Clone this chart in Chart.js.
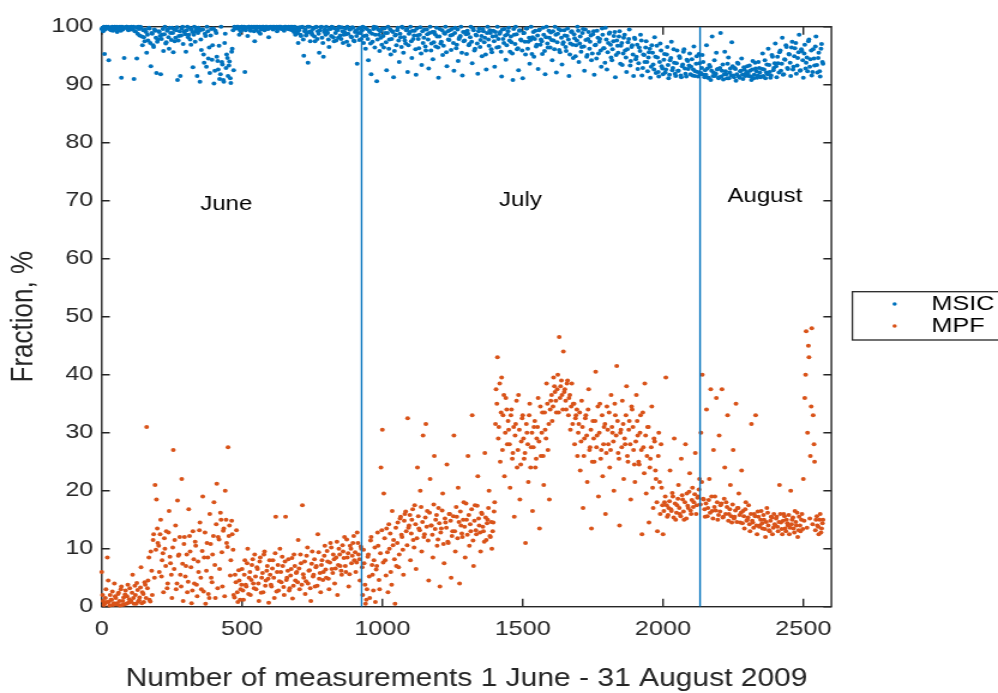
<!DOCTYPE html>
<html>
<head>
<meta charset="utf-8">
<script src="https://cdn.jsdelivr.net/npm/chart.js@4.4.1/dist/chart.umd.min.js"></script>
<style>
  html, body { margin: 0; padding: 0; background: #fff; overflow: hidden; }
  #chart { display: block; }
</style>
</head>
<body>
<canvas id="chart" width="832" height="693" style="width:998px;height:693px"></canvas>
<script>
'use strict';

// readings are stored every `step` measurements, in two interleaved runs
const step = 5;
const secondRunOffset = 3;
const seriesNames = ['MSIC', 'MPF'];
const monthNames = ['June', 'July', 'August'];
const monthBreaks = [926, 2132];
const monthLabelX = [444, 1492, 2363];
const monthLabelY = [69.4, 70, 70.7];
const xTicks = [0, 500, 1000, 1500, 2000, 2500];
const yTicks = [0, 10, 20, 30, 40, 50, 60, 70, 80, 90, 100];

// MSIC, measurements 0, 5, 10, ...
const msic = [
  99.6, 99.2, 95.3, 100, 99.8, 94.2, 99.5, 99.9, 99.3, 100,
  99.7, 99.1, 99.9, 100, 91.2, 99.5, 94.6, 99.8, 100, 99.4,
  99.9, 100, 99.6, 91, 99.2, 94.5, 100, 98.5, 99.8, 96.8,
  98.2, 99.5, 95.5, 97.6, 99.7, 93.2, 98.8, 96.5, 99.3, 92,
  97.8, 99.1, 91.8, 98.6, 95.8, 100, 97.3, 99.5, 96.2, 98.9,
  99.8, 95.6, 97.5, 99.4, 90.8, 98.4, 91.5, 99.7, 97, 99.2,
  95.7, 100, 98.6, 97.8, 99.5, 93, 100, 99.2, 91.5, 99.8,
  90.5, 96, 99.5, 93.8, 98.4, 100, 94.5, 92, 99.6, 96.8,
  90.2, 99.3, 94.8, 92.6, 91, 100, 93.5, 90.5, 98.8, 95.2,
  91.5, 94, 90.3, 96.2, 92.5, 99.7, 99.9, 100, 98.6, 99.2,
  100, 99.6, 92.2, 99.9, 98.4, 100, 99.3, 99.8, 100, 97.5,
  99.5, 100, 99.1, 98.8, 99.9, 100, 99.4, 100, 99.7, 98.2,
  100, 99.8, 99.5, 100, 99.9, 99.2, 100, 100, 99.6, 99.9,
  99.3, 100, 99.8, 100, 99.5, 99.9, 100, 99.1, 98.6, 99.7,
  97.2, 99.9, 98.4, 100, 95, 99.5, 98.8, 93.8, 100, 99.2,
  98.6, 99.8, 97.5, 100, 99.2, 95.5, 99.9, 98.1, 94.8, 99.5,
  100, 98.9, 96.5, 99.6, 100, 98.2, 99.7, 97.6, 99.4, 100,
  98.5, 99.9, 97.2, 99.1, 98.7, 100, 96.8, 99.5, 98.2, 99.8,
  97.5, 99.3, 93.6, 98.9, 99.8, 97.9, 100, 98.4, 96.2, 99.6,
  94.2, 99.1, 91.8, 97.4, 100, 98.6, 90.6, 99.5, 95.8, 98.1,
  99.7, 96.4, 98.9, 92.5, 100, 97.8, 95.2, 99.2, 91.3, 98.5,
  96.8, 99.8, 93.9, 98.2, 100, 95.5, 97.6, 99.4, 92.2, 98.8,
  100, 94.6, 97.9, 99.3, 91.7, 98.5, 96.3, 99.9, 93.4, 97.2,
  99.5, 95.9, 98.7, 92.8, 100, 97.1, 94.4, 99.1, 96.6, 98.3,
  91.2, 99.6, 97.4, 95.1, 98.9, 100, 93.2, 97.8, 99.4, 96,
  98.6, 92.4, 99.8, 96.9, 94.1, 98.2, 100, 91.6, 97.5, 99.1,
  95.3, 98.8, 97, 100, 93.7, 99.4, 96.2, 98.5, 91.9, 99.7,
  97.7, 94.9, 99.2, 98.1, 92.6, 100, 96.7, 98.9, 95.6, 99.3,
  93.1, 98.4, 100, 96.5, 99.1, 91.4, 97.9, 99.6, 94.3, 98.7,
  99.8, 95.7, 97.3, 90.8, 98.6, 100, 96.1, 92.5, 99.4, 97.6,
  91.1, 98.9, 95.2, 99.7, 97.4, 93.6, 100, 98.2, 94.8, 99.3,
  96.9, 92.7, 99.5, 97.8, 95.3, 98.6, 91.8, 100, 96.4, 98.1,
  99, 94.2, 97.6, 100, 92.1, 98.8, 96, 99.4, 93.5, 97.3,
  98.5, 95.8, 99.7, 91.5, 97.1, 99.2, 94.6, 98, 96.8, 100,
  93.9, 98.3, 96.5, 99.6, 92.4, 97.7, 95.1, 99.1, 97.4, 94.2,
  98.7, 91.7, 96.9, 99.3, 95.4, 97.9, 93.1, 98.6, 96.3, 99.8,
  92.6, 97.2, 99, 94.7, 96.1, 98.4, 91.3, 97.6, 95.5, 99.2,
  96.7, 93.4, 98.1, 95.9, 92.2, 97.3, 99.5, 94.1, 96.8, 91.5,
  97.9, 94.8, 92.7, 96.4, 98.6, 91.6, 95.2, 93.9, 97.5, 92.3,
  95.6, 91.2, 96.8, 93.5, 98.2, 92, 94.7, 91.4, 97.1, 93.2,
  91.8, 95.3, 92.6, 96.5, 91.1, 94.2, 97.4, 92.9, 93.8, 91.5,
  95.9, 92.4, 94.6, 91.3, 93.5, 96.1, 91.9, 94.3, 92.7, 95.4,
  93.1, 91.6, 96.6, 92.3, 94.9, 91.4, 93.7, 92, 95.1, 91.7,
  92.5, 96.8, 91.2, 93.4, 90.8, 98.3, 92.1, 91.5, 95.5, 92.7,
  91.3, 98.9, 92.4, 90.9, 95.7, 91.8, 93.6, 91.1, 92.8, 97.3,
  91.6, 92.9, 90.7, 93.8, 91.4, 92.3, 94.5, 91, 92.6, 91.9,
  93.2, 91.5, 92.4, 90.8, 94.1, 91.7, 92.8, 91.2, 93.9, 92.1,
  91.4, 95.4, 92.6, 91.1, 93.5, 96.2, 92.2, 91.6, 94.8, 92.9,
  97.1, 91.3, 93.7, 95.6, 92.4, 98.1, 91.8, 94.3, 96.5, 92.7,
  95.2, 91.5, 97.4, 93.1, 96.3, 91.9, 94.6, 98.6, 92.5, 95.8,
  91.2, 96.9, 93.8, 92.3, 97.8, 94.4, 91.6, 96.1, 93.3, 98.3,
  92.1, 95.5, 91.4, 97, 93.6
];

// MSIC, measurements 3, 8, 13, ...
const msicB = [
  99.8, 100, 99.5, 99.9, 100, 99.7, 99.4, 100, 99.8, 99.6,
  100, 99.5, 99.9, 99.3, 100, 99.8, 99.9, 100, 99.6, 99.9,
  99.5, 99.8, 100, 99.2, 99.9, 98.8, 99.6, 100, 98.3, 99.4,
  97.5, 99.1, 98.6, 99.8, 97.2, 98.9, 96.8, 99.5, 98.1, 97.4,
  99.2, 98.4, 97.9, 99.6, 98.7, 97.1, 99.3, 98.2, 99.8, 97.7,
  98.9, 99.5, 98.1, 99.9, 97.6, 99.2, 98.5, 100, 99.1, 98.7,
  99.4, 98.2, 99.8, 96.9, 99.1, 98.6, 97.4, 99.6, 98.9, 99.3,
  97.8, 99.5, 95.2, 98.8, 93.1, 99.2, 96.4, 98.5, 94.3, 99.7,
  92.4, 98.9, 94.1, 96.7, 91.8, 93.9, 90.8, 97.2, 92.9, 94.6,
  93.3, 91.1, 95.7, 99.4, 100, 99.8, 100, 99.6, 99.9, 100,
  99.7, 100, 99.4, 99.8, 100, 99.6, 100, 99.9, 99.2, 100,
  99.8, 99.9, 100, 99.5, 100, 99.7, 99.9, 100, 99.6, 99.8,
  99.9, 100, 99.7, 99.8, 100, 99.6, 99.9, 100, 99.8, 99.5,
  100, 99.8, 99.6, 99.9, 100, 99.4, 99.7, 100, 99.2, 98.9,
  99.4, 98.6, 99.9, 97.8, 99.2, 98.5, 100, 99.1, 97.5, 98.9,
  99.6, 98.3, 99.9, 97.9, 98.8, 99.4, 100, 97.2, 99.1, 98.6,
  99.3, 97.8, 99.7, 98.4, 99.9, 97.5, 98.9, 99.5, 98.1, 99.8,
  97.9, 99.2, 98.6, 99.7, 97.4, 98.8, 99.5, 98.3, 99.9, 97.6,
  99.1, 98.4, 99.6, 97.7, 98.9, 99.4, 97.2, 99.8, 98.5, 97.9,
  99.3, 97.1, 98.8, 99.6, 96.4, 99.9, 97.8, 98.6, 99.2, 96.9,
  98.4, 99.7, 97.3, 98.9, 96.2, 99.5, 97.9, 99.1, 95.8, 98.6,
  99.4, 97.6, 98.8, 96.5, 99.8, 98.2, 97.1, 99.6, 96.8, 99.1,
  97.5, 99.3, 98.5, 96.1, 99.7, 97.9, 98.6, 95.4, 99.2, 98.1,
  96.6, 99.5, 97.8, 98.9, 95.9, 99.1, 97.3, 98.7, 99.8, 96.4,
  98.3, 97.1, 99.4, 96.7, 98.8, 95.6, 99.2, 97.7, 98.5, 99.6,
  97.2, 98.9, 96.3, 99.5, 97.9, 98.4, 95.5, 99.1, 97.6, 98.7,
  99.3, 96.8, 98.2, 97.4, 99.7, 95.9, 98.6, 97.1, 99.2, 96.5,
  98.4, 99.6, 97.3, 95.2, 98.9, 97.8, 99.4, 96.1, 98.3, 97.5,
  99.1, 96.4, 97.9, 98.8, 95.7, 99.5, 97.2, 98.5, 96.8, 99.2,
  97.6, 98.3, 95.4, 99.6, 97, 98.7, 96.3, 99.3, 97.8, 95.9,
  98.9, 97.4, 99.7, 96.2, 98.1, 97.7, 95.3, 99.1, 97.9, 96.6,
  98.5, 99.4, 96.9, 97.5, 99.8, 95.8, 98.2, 97.1, 99.3, 96.4,
  97.7, 99.2, 96.1, 98.6, 97.3, 99.6, 95.6, 98.1, 97, 99.4,
  96.5, 98.4, 97.8, 95.2, 99.1, 96.9, 98.7, 94.9, 97.6, 99.3,
  97.1, 95.7, 98.9, 96.6, 99.5, 94.8, 97.9, 96.2, 98.5, 95.4,
  99.2, 96.8, 94.5, 98.1, 97.4, 95.9, 99.7, 96.3, 93.8, 97.8,
  95.6, 98.8, 96.9, 94.2, 97.5, 99.1, 95.1, 96.7, 98.3, 93.6,
  97.2, 95.4, 98.6, 94.7, 96.1, 97.9, 93.3, 96.5, 95.2, 98.1,
  94.4, 96.9, 93.7, 95.8, 97.6, 92.9, 95.1, 96.4, 93.9, 94.7,
  96.2, 93.1, 95.5, 92.6, 94.8, 96.7, 92.2, 93.9, 95.9, 92.8,
  94.3, 92.1, 95.2, 93.4, 91.7, 94.6, 92.5, 96.1, 91.9, 93.7,
  92.4, 94.9, 91.6, 93.2, 95.7, 92.8, 91.4, 94.1, 93.3, 91.8,
  94.4, 92.6, 91.5, 93.6, 92.2, 95.3, 91.8, 92.9, 93.9, 91.3,
  91.7, 92.8, 91.2, 93.1, 92.4, 91.5, 94.2, 91.9, 92.6, 91.1,
  92.9, 91.4, 93.5, 91.8, 92.3, 91.1, 94.7, 92.1, 91.6, 93.2,
  91.3, 92.7, 91.8, 93.6, 91.2, 92.4, 91.7, 93, 91.5, 92.2,
  91.9, 93.3, 91.4, 92.6, 91.1, 93.8, 92.3, 91.6, 92.9, 91.3,
  92.7, 91.5, 94.2, 92.1, 91.8, 93.4, 91.2, 95.1, 92.5, 93.7,
  93.2, 94.8, 92.1, 95.9, 93.6, 91.7, 94.4, 96.8, 92.9, 95.3,
  93.8, 96.4, 92.6, 94.9, 97.2, 93.3, 95.6, 92.4, 96.1, 94.2,
  95.4, 92.8, 94.7, 97.5, 93.1, 95.9, 92.2, 94.5, 96.6, 93.4,
  94.6, 92.3, 96.2, 93.9
];

// MPF, measurements 0, 5, 10, ...
const mpf = [
  6, 1, 0.5, 3, 8.5, 0.8, 2, 1.2, 0.3, 4,
  1.5, 0.6, 2.4, 0.2, 3.5, 1, 0.4, 2.8, 1.8, 0.7,
  3.2, 1, 5.5, 0.5, 2, 4.1, 0.9, 1.6, 6.8, 2.5,
  0.8, 3.8, 31, 4.5, 1.2, 9.5, 2, 12.5, 21, 18.5,
  11, 6, 15, 8, 2.5, 10, 13, 4, 16.5, 7.5,
  1.5, 27, 11.5, 3, 18.3, 9, 5.5, 22, 1, 12,
  7, 2.5, 16.8, 9.5, 0.6, 13, 4, 10.5, 1.8, 6,
  14.5, 3, 19, 8.5, 0.5, 11, 2.2, 16, 5, 9,
  18, 1.5, 21.2, 12, 6.5, 15, 3.5, 13.5, 20, 11,
  27.5, 14, 8, 12.5, 2, 5.5, 13.2, 0.8, 4.5, 3,
  6.5, 1.2, 8, 3.5, 10, 5, 2, 7.2, 4, 9,
  3, 6.5, 1, 8.5, 5, 2.5, 9.5, 4.5, 7, 0.7,
  5.5, 3.5, 8, 1.5, 15.5, 6, 2.8, 10, 4.2, 7,
  2, 15.5, 5, 8.2, 3.2, 6.5, 1.4, 9, 4.5, 6,
  11.5, 3, 7.5, 17.5, 5, 2.2, 8.8, 4, 6.3, 1,
  9.5, 5.5, 3.5, 7, 12.5, 4.8, 2.5, 8, 6, 10.5,
  5, 7.8, 3, 11, 6.5, 9, 4, 8.5, 2, 10,
  7, 5.5, 9.5, 12, 6, 8.5, 3.5, 10.5, 7.5, 11,
  8, 6, 12.8, 9, 4.5, 10, 2, 7.5, 0.5, 3,
  9, 1.5, 12, 5.5, 8, 0.8, 7, 10.5, 3, 24,
  30.5, 19.5, 8, 13.5, 2.5, 10, 6, 16.5, 11.5, 0.5,
  7, 14.5, 9, 15.5, 12, 5.5, 16, 13, 32.5, 14,
  8, 15, 11.5, 17.5, 6.5, 24, 13.5, 20, 9.5, 29.5,
  12.5, 31.5, 16.5, 4.5, 22, 14, 8.5, 26, 15, 10.5,
  17, 3.5, 13.5, 19.5, 7.5, 14.5, 24.5, 11, 16, 5,
  13, 29.5, 9.5, 15.5, 20.5, 4, 14, 12, 18, 8.5,
  15, 26, 10.5, 13, 33, 7, 17.5, 12.5, 22.5, 14,
  9.5, 16, 13, 26.5, 11.5, 15, 20, 12, 10, 14.5,
  18, 37.5, 43, 31, 25, 39.5, 33, 22.5, 36, 28,
  30.5, 20.5, 34, 26.5, 15.5, 31.5, 24, 36.5, 18.5, 28.5,
  33, 25.5, 11, 30, 21.5, 35, 27.5, 16.5, 31, 24,
  29, 36, 13.5, 26, 33.5, 21, 30.5, 38.5, 27, 18.5,
  35.5, 32, 39.5, 37, 33.5, 40, 46.5, 38, 36.5, 44,
  37.5, 34, 39, 36, 30.5, 38.5, 35, 28, 33, 26,
  31.5, 23.5, 35.5, 17, 29, 33, 21.5, 37.5, 27.5, 13.5,
  32, 25, 40.5, 29.5, 19, 35, 27, 22.5, 31, 16,
  34.5, 28, 24, 36.5, 30, 20, 33, 41.5, 26.5, 14,
  30.5, 35.5, 22, 28, 38, 25, 32, 18.5, 34, 27,
  21.5, 36.5, 29.5, 24.5, 33, 12.5, 27.5, 38.5, 19.5, 31,
  14.5, 25.5, 34.5, 17, 28.5, 22, 13, 30, 16, 20.5,
  12.5, 18, 39.5, 15.5, 17, 23.5, 16.5, 19, 29, 15,
  17.5, 21, 16, 25.5, 18.5, 15, 28, 19.5, 17, 23,
  16, 20.5, 18, 26.5, 17.5, 19, 22, 30, 40, 18.5,
  15.5, 34, 17, 22, 37.5, 16.5, 27, 19, 36, 15,
  29.5, 17.5, 37.5, 15.5, 24, 18, 33, 16, 21, 14.5,
  27, 15.5, 35, 17, 19.5, 14.5, 23.5, 16.5, 13.5, 18,
  15, 17.5, 13, 31.5, 14.5, 16, 33, 12.5, 15.5, 14,
  16.5, 13.5, 15, 12, 17, 14, 13, 15.5, 12.5, 16,
  14, 15.5, 13, 21, 14.5, 12.5, 16, 13.5, 15, 14,
  12.5, 20, 15, 13.5, 16.5, 14, 12, 15.5, 13, 16,
  22, 36, 47.5, 30, 43, 26, 48, 33, 25, 15,
  14, 12.5, 16, 13.5, 15
];

// MPF, measurements 3, 8, 13, ...
const mpfB = [
  2, 0.3, 1.5, 0.8, 4.5, 0.2, 1.2, 2.6, 0.6, 1.8,
  0.4, 2.2, 1, 3, 0.3, 1.6, 2.1, 0.5, 3.8, 1.3,
  0.8, 2.4, 1.5, 3.6, 0.5, 2.9, 1.1, 3.3, 0.6, 2.2,
  4.2, 1.5, 3.2, 8.5, 0.9, 6.2, 11.5, 5, 9.8, 13.5,
  10.5, 12.5, 5.2, 9.2, 11.8, 7, 3.2, 12.8, 8.6, 5.5,
  10.2, 6.5, 14, 4, 8.8, 12, 3.5, 7.4, 10.8, 5.2,
  9, 4.3, 12.2, 6.8, 2.8, 8.2, 11.2, 3.8, 7.8, 13.2,
  5, 9.6, 2.6, 12.8, 6.2, 8.5, 1.5, 10.8, 4.2, 12.2,
  7.2, 14.2, 3.2, 11.6, 16.2, 9.4, 13.1, 1.8, 15, 10.3,
  12.2, 5.4, 14.8, 9.8, 1.6, 4.2, 2.5, 6.3, 1.2, 3.8,
  2.8, 5.5, 3.8, 7.5, 2.2, 6, 4.6, 8.2, 3.2, 5.2,
  6.8, 4, 7.8, 2.4, 5.8, 9, 3.6, 6.2, 4.8, 8,
  3.8, 6.6, 5, 9.2, 2.6, 7.2, 4.4, 6, 8.6, 3.4,
  7.8, 4.6, 6.2, 2.8, 5.4, 8.4, 3.6, 7, 5.8, 4.2,
  6.6, 9, 3.8, 5.6, 7.8, 4.4, 10.2, 6.2, 3.2, 7.4,
  5.2, 8.2, 6.8, 3.6, 9.4, 5.8, 7.2, 4.6, 8.8, 6.4,
  9.6, 4.8, 7.6, 10.2, 5.8, 8.2, 6.6, 11.2, 7.2, 9,
  6.2, 10.6, 8.4, 7, 11.6, 9.2, 5.6, 10, 8.8, 12.2,
  9.4, 7.6, 11, 8.2, 10.4, 6.8, 9.8, 3.8, 1.2, 8.6,
  5.2, 11.4, 7.2, 2.8, 10.2, 6.4, 12.8, 4.6, 9.2, 13.2,
  7.6, 11.8, 5.4, 9.4, 14.2, 12.6, 3.8, 10.6, 8.2, 13.6,
  11, 6.8, 15.2, 12.4, 9.8, 14.8, 16.4, 10.6, 13.6, 15.8,
  12.6, 16.8, 10.2, 14.2, 11.8, 15.6, 13.2, 17.2, 14.6, 12,
  15.4, 13.8, 11.4, 16.2, 14, 12.4, 17.6, 13.4, 15.8, 11.6,
  14.4, 12.8, 16.6, 10.8, 15.2, 13.6, 11.2, 16, 14.8, 12.2,
  15.6, 13, 17.2, 11.8, 14.6, 16.4, 12.6, 15, 13.8, 17.8,
  12.4, 15.8, 14.2, 16.8, 11.4, 14.8, 13.2, 17.4, 15.2, 12.8,
  16.2, 13.8, 11.2, 15.4, 14.4, 17, 12.2, 14.6, 13, 16.4,
  31.5, 35, 29, 38.5, 33.5, 27, 36.5, 30, 34, 32,
  28, 33, 25.5, 31, 29.5, 35.5, 27, 30.5, 24.5, 32.5,
  29, 26.5, 31.5, 28, 33, 24, 30, 27.5, 32, 25.5,
  31, 28.5, 34.5, 30, 26, 33.5, 29, 35, 31.5, 34,
  36.5, 34.5, 38, 35.5, 37.5, 33.5, 36, 39, 34, 37,
  35.5, 38.5, 33, 36.5, 34.5, 31.5, 35, 32.5, 34, 30,
  33.5, 28.5, 31, 26, 32.5, 29.5, 34, 27, 30.5, 25,
  29, 32, 27.5, 34.5, 30, 25.5, 33, 28, 31.5, 26.5,
  30.5, 33.5, 27, 31, 28.5, 35, 29.5, 32, 25.5, 30,
  27.5, 31.5, 29, 33, 26, 30.5, 28, 34.5, 31, 24.5,
  28.5, 32, 25, 30, 27, 33.5, 23, 29.5, 26, 31,
  24, 27.5, 20.5, 29, 23.5, 18, 26, 21.5, 28, 17.5,
  16.5, 19, 17.5, 15.8, 18.2, 16.8, 19.6, 15.4, 17.8, 16.2,
  18.6, 17, 15.6, 19.2, 16.4, 18, 15.2, 17.4, 19.8, 16.6,
  18.4, 17.2, 19.4, 16, 18.8, 20.2, 17.6, 21.5, 18.6, 16.8,
  17.8, 15.6, 18.4, 16.2, 19, 15.2, 17.2, 16.6, 18, 15.8,
  16.4, 17.8, 15.4, 18.6, 16, 17.2, 14.8, 16.8, 15.6, 17.6,
  15.2, 16.6, 14.6, 17, 15.8, 16.2, 14.4, 15.6, 16.8, 14.8,
  15.4, 14.2, 16, 14.8, 13.6, 15.6, 14, 16.4, 13.8, 15,
  14.4, 15.8, 13.4, 14.6, 16.2, 13.2, 14.8, 15.4, 13.6, 14.2,
  15.2, 13.8, 14.6, 16, 13.4, 14.8, 15.6, 13, 14.4, 15.8,
  13.6, 14.2, 15.4, 12.8, 14.6, 16.2, 13.2, 14, 15, 13.4,
  14.8, 40, 13.6, 45, 15.2, 34.5, 14.2, 28, 13.2, 15.6,
  13.8, 15, 12.8, 14.4
];

const blue = '#0072BD';
const orange = '#D95319';
const ink = '#262626';
const family = '"Liberation Sans", Arial, Helvetica, sans-serif';

function toPoints(values, offset) {
  return values.map((v, i) => ({ x: i * step + offset, y: v }));
}

// plot box with inward ticks on all four sides (MATLAB style)
const boxPlugin = {
  id: 'box',
  beforeDatasetsDraw(chart) {
    const { ctx, chartArea: a, scales: { x, y } } = chart;
    ctx.save();
    ctx.strokeStyle = ink;
    ctx.lineWidth = 1.4;
    ctx.strokeRect(a.left, a.top, a.right - a.left, a.bottom - a.top);
    ctx.beginPath();
    xTicks.forEach(v => {
      const px = x.getPixelForValue(v);
      ctx.moveTo(px, a.bottom); ctx.lineTo(px, a.bottom - 8);
      ctx.moveTo(px, a.top); ctx.lineTo(px, a.top + 8);
    });
    yTicks.forEach(v => {
      const py = y.getPixelForValue(v);
      ctx.moveTo(a.left, py); ctx.lineTo(a.left + 6.7, py);
      ctx.moveTo(a.right, py); ctx.lineTo(a.right - 6.7, py);
    });
    ctx.stroke();
    ctx.restore();
  },
  afterDatasetsDraw(chart) {
    const { ctx, scales: { x, y } } = chart;
    ctx.save();
    ctx.fillStyle = '#000';
    ctx.font = '20px ' + family;
    ctx.textAlign = 'center';
    ctx.textBaseline = 'middle';
    monthNames.forEach((m, i) => {
      ctx.fillText(m, x.getPixelForValue(monthLabelX[i]), y.getPixelForValue(monthLabelY[i]));
    });
    ctx.restore();
  },
  afterDraw(chart) {
    // legend box, partly cut off by the right edge like the original
    const ctx = chart.ctx;
    const colors = [blue, orange];
    ctx.save();
    ctx.strokeStyle = ink;
    ctx.lineWidth = 1.3;
    ctx.fillStyle = '#fff';
    ctx.fillRect(710.6, 291.7, 140, 48.3);
    ctx.strokeRect(710.6, 291.7, 140, 48.3);
    ctx.font = '21px ' + family;
    ctx.textBaseline = 'middle';
    ctx.textAlign = 'left';
    seriesNames.forEach((name, i) => {
      const cy = 304 + i * 22;
      ctx.fillStyle = colors[i];
      ctx.beginPath();
      ctx.arc(745.8, cy, 1.8, 0, Math.PI * 2);
      ctx.fill();
      ctx.fillStyle = '#000';
      ctx.fillText(name, 776.4, cy);
    });
    ctx.restore();
  }
};

const dividers = monthBreaks.map(b => ({
  type: 'line',
  label: 'break ' + b,
  data: [{ x: b, y: 0 }, { x: b, y: 100 }],
  borderColor: blue,
  borderWidth: 1.4,
  pointRadius: 0,
  showLine: true,
  order: 0
}));

new Chart(document.getElementById('chart'), {
  type: 'scatter',
  data: {
    datasets: [
      {
        label: seriesNames[0],
        data: toPoints(msic, 0).concat(toPoints(msicB, secondRunOffset)),
        backgroundColor: blue,
        borderWidth: 0,
        pointRadius: 2,
        pointBorderWidth: 0,
        clip: 4,
        order: 1
      },
      {
        label: seriesNames[1],
        data: toPoints(mpf, 0).concat(toPoints(mpfB, secondRunOffset)),
        backgroundColor: orange,
        borderWidth: 0,
        pointRadius: 2,
        pointBorderWidth: 0,
        clip: 4,
        order: 1
      },
      ...dividers
    ]
  },
  options: {
    responsive: false,
    animation: false,
    devicePixelRatio: 1,
    events: [],
    layout: { padding: { left: 0, top: 26.7, right: 138.9, bottom: 0 } },
    plugins: {
      legend: { display: false },
      tooltip: { enabled: false }
    },
    scales: {
      x: {
        type: 'linear',
        min: 0,
        max: 2600,
        afterBuildTicks: s => { s.ticks = xTicks.map(v => ({ value: v })); },
        afterFit: s => { s.height = 86.3; },
        grid: { display: false, drawTicks: false },
        border: { display: false },
        ticks: {
          padding: 10, color: ink, autoSkip: false, maxRotation: 0,
          font: { family: family, size: 21 },
          callback: v => String(v)
        },
        title: {
          display: true,
          text: 'Number of measurements 1 June - 31 August 2009',
          color: ink,
          font: { family: family, size: 25, lineHeight: 1 },
          padding: { top: 0, bottom: 1 }
        }
      },
      y: {
        min: 0,
        max: 100,
        afterBuildTicks: s => { s.ticks = yTicks.map(v => ({ value: v })); },
        afterFit: s => { s.width = 84.8; },
        grid: { display: false, drawTicks: false },
        border: { display: false },
        ticks: {
          padding: 7, color: ink,
          font: { family: family, size: 21 },
          callback: v => String(v)
        },
        title: {
          display: true,
          text: 'Fraction, %',
          color: ink,
          font: { family: family, size: 26, lineHeight: 1 },
          padding: { top: 7, bottom: 0 }
        }
      }
    }
  },
  plugins: [boxPlugin]
});
</script>
</body>
</html>
